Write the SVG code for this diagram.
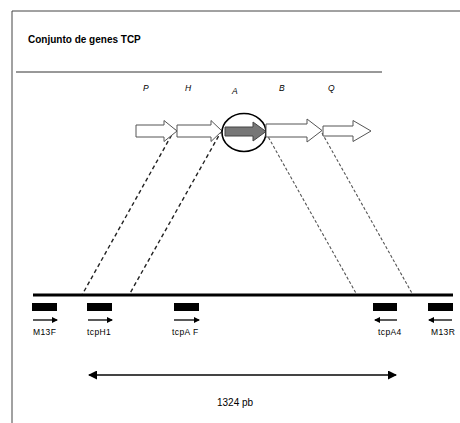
<svg xmlns="http://www.w3.org/2000/svg" width="460" height="423" viewBox="0 0 460 423">
<style>
text{font-family:"Liberation Sans",Arial,sans-serif;fill:#000}
.gl{font-size:8.5px;font-style:italic}
.pl{font-size:8.5px;letter-spacing:0.4px}
.gene{fill:#fff;stroke:#555;stroke-width:1}
.d1{stroke:#222;stroke-width:1.4;stroke-dasharray:4,3;fill:none}
.d2{stroke:#555;stroke-width:1.1;stroke-dasharray:3,2;fill:none}
.box{fill:#000}
.sa{stroke:#000;stroke-width:1.3;fill:none}
</style>
<defs>
<marker id="ah" markerWidth="6" markerHeight="6" refX="5" refY="3" orient="auto" markerUnits="userSpaceOnUse">
<path d="M0,0 L6,3 L0,6 Z" fill="#000"/>
</marker>
<marker id="big" markerWidth="9" markerHeight="9" refX="8" refY="4.5" orient="auto-start-reverse" markerUnits="userSpaceOnUse">
<path d="M0,0 L9,4.5 L0,9 Z" fill="#000"/>
</marker>
</defs>
<rect width="460" height="423" fill="#fff"/>
<g id="frame">
<path d="M12,423 V11 H460" stroke="#444" stroke-width="1" fill="none"/>
<text x="28" y="43" style="font-size:10px;font-weight:bold">Conjunto de genes TCP</text>
<line x1="16" y1="72" x2="382" y2="72" stroke="#333" stroke-width="1"/>
</g>
<g id="connectors">
<line class="d1" x1="175" y1="129" x2="82" y2="295"/>
<line class="d1" x1="222" y1="130" x2="129" y2="295"/>
<line class="d2" x1="266" y1="133" x2="357" y2="295"/>
<line class="d2" x1="322" y1="133" x2="413" y2="295"/>
</g>
<g id="gene-P">
<text class="gl" x="143" y="91">P</text>
<path class="gene" d="M136,125 H164 V120.5 L177,131 L164,141.5 V137 H136 Z"/>
</g>
<g id="gene-H">
<text class="gl" x="185" y="91">H</text>
<path class="gene" d="M177,125 H211 V120.5 L222,131 L211,141.5 V137 H177 Z"/>
</g>
<g id="gene-A">
<text class="gl" x="232" y="94">A</text>
<path d="M225,127 H253 V122 L266,131.5 L253,141 V136 H225 Z" fill="#777" stroke="#444" stroke-width="1"/>
<ellipse cx="244" cy="132.5" rx="22" ry="19" fill="none" stroke="#000" stroke-width="1.6"/>
</g>
<g id="gene-B">
<text class="gl" x="279" y="91">B</text>
<path class="gene" d="M266,124 H307 V119 L322,130.5 L307,142 V137 H266 Z"/>
</g>
<g id="gene-Q">
<text class="gl" x="328" y="91">Q</text>
<path class="gene" d="M323,126 H353 V120.5 L371,131 L353,141.5 V136 H323 Z"/>
</g>
<g id="sequence">
<line x1="33" y1="295" x2="453" y2="295" stroke="#000" stroke-width="3"/>
</g>
<g id="primer-M13F">
<rect class="box" x="32" y="303" width="25" height="8"/>
<line class="sa" x1="33" y1="320" x2="57" y2="320" marker-end="url(#ah)"/>
<text class="pl" x="33" y="335">M13F</text>
</g>
<g id="primer-tcpH1">
<rect class="box" x="87" y="303" width="25" height="8"/>
<line class="sa" x1="88" y1="320" x2="112" y2="320" marker-end="url(#ah)"/>
<text class="pl" x="87" y="335">tcpH1</text>
</g>
<g id="primer-tcpAF">
<rect class="box" x="174" y="303" width="25" height="8"/>
<line class="sa" x1="174" y1="320" x2="199" y2="320" marker-end="url(#ah)"/>
<text class="pl" x="172" y="335">tcpA F</text>
</g>
<g id="primer-tcpA4">
<rect class="box" x="373" y="303" width="24" height="8"/>
<line class="sa" x1="397" y1="320" x2="375" y2="320" marker-end="url(#ah)"/>
<text class="pl" x="378" y="335">tcpA4</text>
</g>
<g id="primer-M13R">
<rect class="box" x="428" y="303" width="25" height="8"/>
<line class="sa" x1="452" y1="320" x2="429" y2="320" marker-end="url(#ah)"/>
<text class="pl" x="431" y="335">M13R</text>
</g>
<g id="length">
<line x1="89" y1="375" x2="396" y2="375" stroke="#444" stroke-width="2" marker-start="url(#big)" marker-end="url(#big)"/>
<text x="217" y="406" style="font-size:10px">1324 pb</text>
</g>
</svg>
